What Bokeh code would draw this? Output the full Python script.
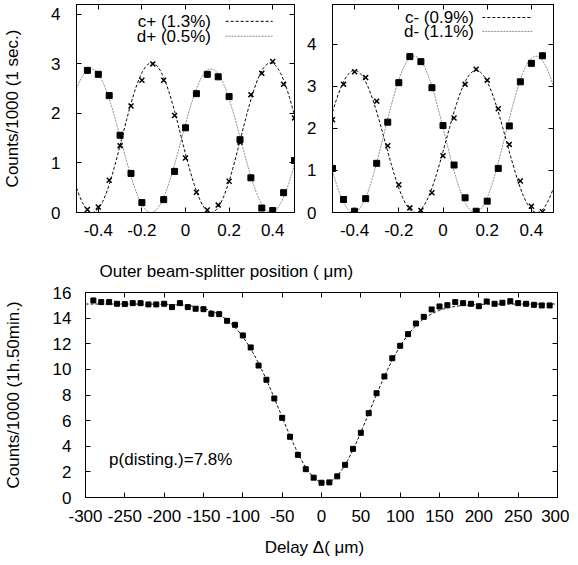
import numpy as np
from bokeh.plotting import figure
from bokeh.layouts import column, row
from bokeh.models import Range1d, LinearAxis, FixedTicker, Label, Title
from bokeh.embed import file_html
from bokeh.resources import INLINE

FONT = "Liberation Sans"
FS = "17px"

# ---------------- data: top-left panel (c+ crosses, d+ squares) ----------------
x_c_plus = [-0.45, -0.40, -0.35, -0.30, -0.25, -0.20, -0.15, -0.10, -0.05, 0.00,
            0.05, 0.10, 0.15, 0.20, 0.25, 0.30, 0.35, 0.40, 0.45, 0.50]
c_plus = [0.06, 0.11, 0.65, 1.35, 2.15, 2.67, 3.00, 2.67, 1.96, 1.10,
          0.41, 0.05, 0.15, 0.63, 1.42, 2.38, 2.81, 3.05, 2.59, 1.91]
x_d_plus = [-0.45, -0.40, -0.35, -0.30, -0.25, -0.20, -0.10, -0.05, 0.00,
            0.05, 0.10, 0.15, 0.20, 0.25, 0.30, 0.35, 0.40, 0.45, 0.50]
d_plus = [2.87, 2.79, 2.36, 1.56, 0.79, 0.20, 0.26, 0.83, 1.71,
          2.40, 2.79, 2.74, 2.34, 1.47, 0.70, 0.09, 0.04, 0.40, 1.05]

# ---------------- data: top-right panel (c- crosses, d- squares) ----------------
x_minus = [-0.50, -0.45, -0.40, -0.35, -0.30, -0.25, -0.20, -0.15, -0.10, -0.05,
           0.00, 0.05, 0.10, 0.15, 0.20, 0.25, 0.30, 0.35, 0.40, 0.45]
c_minus = [2.21, 3.05, 3.35, 3.21, 2.65, 1.59, 0.66, 0.11, 0.05, 0.47,
           1.35, 2.25, 3.05, 3.41, 3.15, 2.47, 1.62, 0.75, 0.15, 0.02]
d_minus = [1.05, 0.31, 0.03, 0.33, 1.17, 2.15, 3.09, 3.71, 3.59, 2.97,
           2.07, 1.13, 0.35, 0.03, 0.27, 1.05, 2.06, 3.11, 3.55, 3.73]

# fitted fringes: offset, amplitude, period, position of a maximum
c_plus_fit = dict(offset=1.51, amp=1.51, period=0.545, peak=-0.155)
d_plus_fit = dict(offset=1.45, amp=1.45, period=0.55, peak=0.117)
c_minus_fit = dict(offset=1.69, amp=1.69, period=0.55, peak=-0.40)
d_minus_fit = dict(offset=1.86, amp=1.86, period=0.55, peak=-0.13)

top_ticks_x = [-0.4, -0.2, 0.0, 0.2, 0.4]
top_tick_labels_x = ["-0.4", "-0.2", "0", "0.2", "0.4"]
top_ticks_y = [0, 1, 2, 3, 4]
top_tick_labels_y = ["0", "1", "2", "3", "4"]

# ---------------- data: bottom panel (HOM dip) ----------------
delay = [-290, -280, -270, -260, -250, -240, -230, -220, -210, -200,
         -190, -180, -170, -160, -150, -140, -130, -120, -110, -100,
         -90, -80, -70, -60, -50, -40, -30, -20, -10, 0,
         10, 20, 30, 40, 50, 60, 70, 80, 90, 100,
         110, 120, 130, 140, 150, 160, 170, 180, 190, 200,
         210, 220, 230, 240, 250, 260, 270, 280, 290]
counts = [15.38, 15.25, 15.25, 15.12, 15.10, 15.17, 15.17, 15.07, 15.07, 15.12,
          14.86, 15.17, 14.86, 14.73, 14.70, 14.34, 14.31, 13.79, 13.48, 12.65,
          11.71, 10.30, 9.19, 7.73, 6.22, 4.74, 3.33, 2.21, 1.55, 1.15,
          1.18, 1.65, 2.55, 3.80, 5.05, 6.58, 8.14, 9.45, 10.87, 11.84,
          12.75, 13.58, 14.10, 14.68, 14.91, 15.01, 15.25, 15.17, 15.12, 14.93,
          15.30, 15.12, 15.20, 15.32, 15.17, 15.12, 15.04, 14.99, 14.99]
dip_fit = dict(base=15.1, depth=13.95, center=4.0, sigma=56.5)

bottom_ticks_x = [-300, -250, -200, -150, -100, -50, 0, 50, 100, 150, 200, 250, 300]
bottom_tick_labels_x = [str(t) for t in bottom_ticks_x]
bottom_ticks_y = [0, 2, 4, 6, 8, 10, 12, 14, 16]
bottom_tick_labels_y = [str(t) for t in bottom_ticks_y]

GRAY = "#8c8c8c"


def fringe(xs, f):
    xs = np.asarray(xs)
    return f["offset"] + f["amp"] * np.cos(2 * np.pi * (xs - f["peak"]) / f["period"])


def dip(xs, f):
    xs = np.asarray(xs)
    return f["base"] - f["depth"] * np.exp(-((xs - f["center"]) ** 2) / (2 * f["sigma"] ** 2))


def style_axis(ax, ticks, labels, show=True):
    ax.ticker = FixedTicker(ticks=ticks)
    ax.major_label_overrides = {t: l for t, l in zip(ticks, labels)}
    ax.major_tick_in = 5
    ax.major_tick_out = 0
    ax.major_tick_line_color = "black"
    ax.minor_tick_line_color = None
    ax.axis_line_color = "black"
    ax.major_label_text_font = FONT
    ax.major_label_text_color = "black" if show else None
    ax.major_label_text_font_size = FS if show else "0px"
    ax.axis_label_text_font = FONT
    ax.axis_label_text_font_size = FS
    ax.axis_label_text_font_style = "normal"
    ax.axis_label_text_color = "black"


def base_fig(width, height, xr, yr, mbl, mbr, mbt, mbb, xt, xl, yt, yl):
    p = figure(width=width, height=height, x_range=Range1d(*xr), y_range=Range1d(*yr),
               output_backend="svg", toolbar_location=None,
               min_border_left=mbl, min_border_right=mbr,
               min_border_top=mbt, min_border_bottom=mbb)
    p.xgrid.visible = False
    p.ygrid.visible = False
    p.outline_line_color = "black"
    p.outline_line_width = 1
    p.background_fill_color = "white"
    p.border_fill_color = "white"
    xb = p.xaxis[0]
    yb = p.yaxis[0]
    style_axis(xb, xt, xl)
    style_axis(yb, yt, yl)
    top = LinearAxis()
    style_axis(top, xt, xl, show=False)
    p.add_layout(top, "above")
    right = LinearAxis()
    style_axis(right, yt, yl, show=False)
    p.add_layout(right, "right")
    xb.major_label_standoff = 11
    yb.major_label_standoff = 16
    return p, xb, yb


def legend_entry(p, text, x_text, y, x_line, color, dash):
    p.add_layout(Label(x=x_text, y=y, text=text, text_align="right", text_baseline="middle",
                       text_font=FONT, text_font_size=FS, text_color="black"))
    p.line(x_line, [y, y], line_color=color, line_dash=dash, line_width=1)


xs_top = np.linspace(-0.5, 0.5, 301)

# ---------- top-left ----------
p1, p1x, p1y = base_fig(304, 241, (-0.5, 0.5), (0, 4.2), 72, 10, 4, 29,
                        top_ticks_x, top_tick_labels_x, top_ticks_y, top_tick_labels_y)
p1y.axis_label = "Counts/1000 (1 sec.)"
p1y.axis_label_standoff = 26
p1.line(xs_top, fringe(xs_top, d_plus_fit), line_color=GRAY, line_dash="2 1", line_width=1)
p1.line(xs_top, fringe(xs_top, c_plus_fit), line_color="black", line_dash="3 2", line_width=1)
p1.scatter(x_c_plus, c_plus, marker="x", size=7, line_color="black", line_width=1.5)
p1.scatter(x_d_plus, d_plus, marker="square", size=6, fill_color="black", line_color="black")
legend_entry(p1, "c+ (1.3%)", 0.117, 3.86, [0.184, 0.40], "black", "3 2")
legend_entry(p1, "d+ (0.5%)", 0.117, 3.56, [0.184, 0.40], GRAY, "2 1")

# ---------- top-right ----------
p2, p2x, p2y = base_fig(259, 241, (-0.5, 0.5), (0, 4.95), 23, 10, 4, 29,
                        top_ticks_x, top_tick_labels_x, top_ticks_y, top_tick_labels_y)
p2.line(xs_top, fringe(xs_top, d_minus_fit), line_color=GRAY, line_dash="2 1", line_width=1)
p2.line(xs_top, fringe(xs_top, c_minus_fit), line_color="black", line_dash="3 2", line_width=1)
p2.scatter(x_minus, c_minus, marker="x", size=7, line_color="black", line_width=1.5)
p2.scatter(x_minus, d_minus, marker="square", size=6, fill_color="black", line_color="black")
legend_entry(p2, "c- (0.9%)", 0.14, 4.64, [0.178, 0.405], "black", "3 2")
legend_entry(p2, "d- (1.1%)", 0.14, 4.31, [0.178, 0.405], GRAY, "2 1")

# ---------- bottom ----------
p3, p3x, p3y = base_fig(569, 320, (-300, 300), (0, 16), 82, 12, 51, 64,
                        bottom_ticks_x, bottom_tick_labels_x, bottom_ticks_y, bottom_tick_labels_y)
p3y.axis_label = "Counts/1000 (1h.50min.)"
p3y.major_label_standoff = 14
p3y.axis_label_standoff = 27
p3x.axis_label = "Delay    \u0394( \u03bcm)"
p3x.major_label_standoff = 12
p3x.axis_label_standoff = 13
xs_bot = np.linspace(-300, 300, 601)
p3.line(xs_bot, dip(xs_bot, dip_fit), line_color="black", line_dash="3 2", line_width=1)
p3.scatter(delay, counts, marker="square", size=5, fill_color="black", line_color="black")
p3.add_layout(Label(x=-270, y=3.0, text="p(disting.)=7.8%", text_baseline="middle",
                    text_font=FONT, text_font_size=FS, text_color="black"))
p3.add_layout(Title(text="Outer beam-splitter position ( \u03bcm)", align="left", offset=14,
                    text_font=FONT, text_font_size=FS, text_font_style="normal",
                    text_color="black", standoff=24), "above")

layout = column(row(p1, p2, spacing=0), p3, spacing=0)
open("out.html", "w").write(file_html(layout, INLINE))
